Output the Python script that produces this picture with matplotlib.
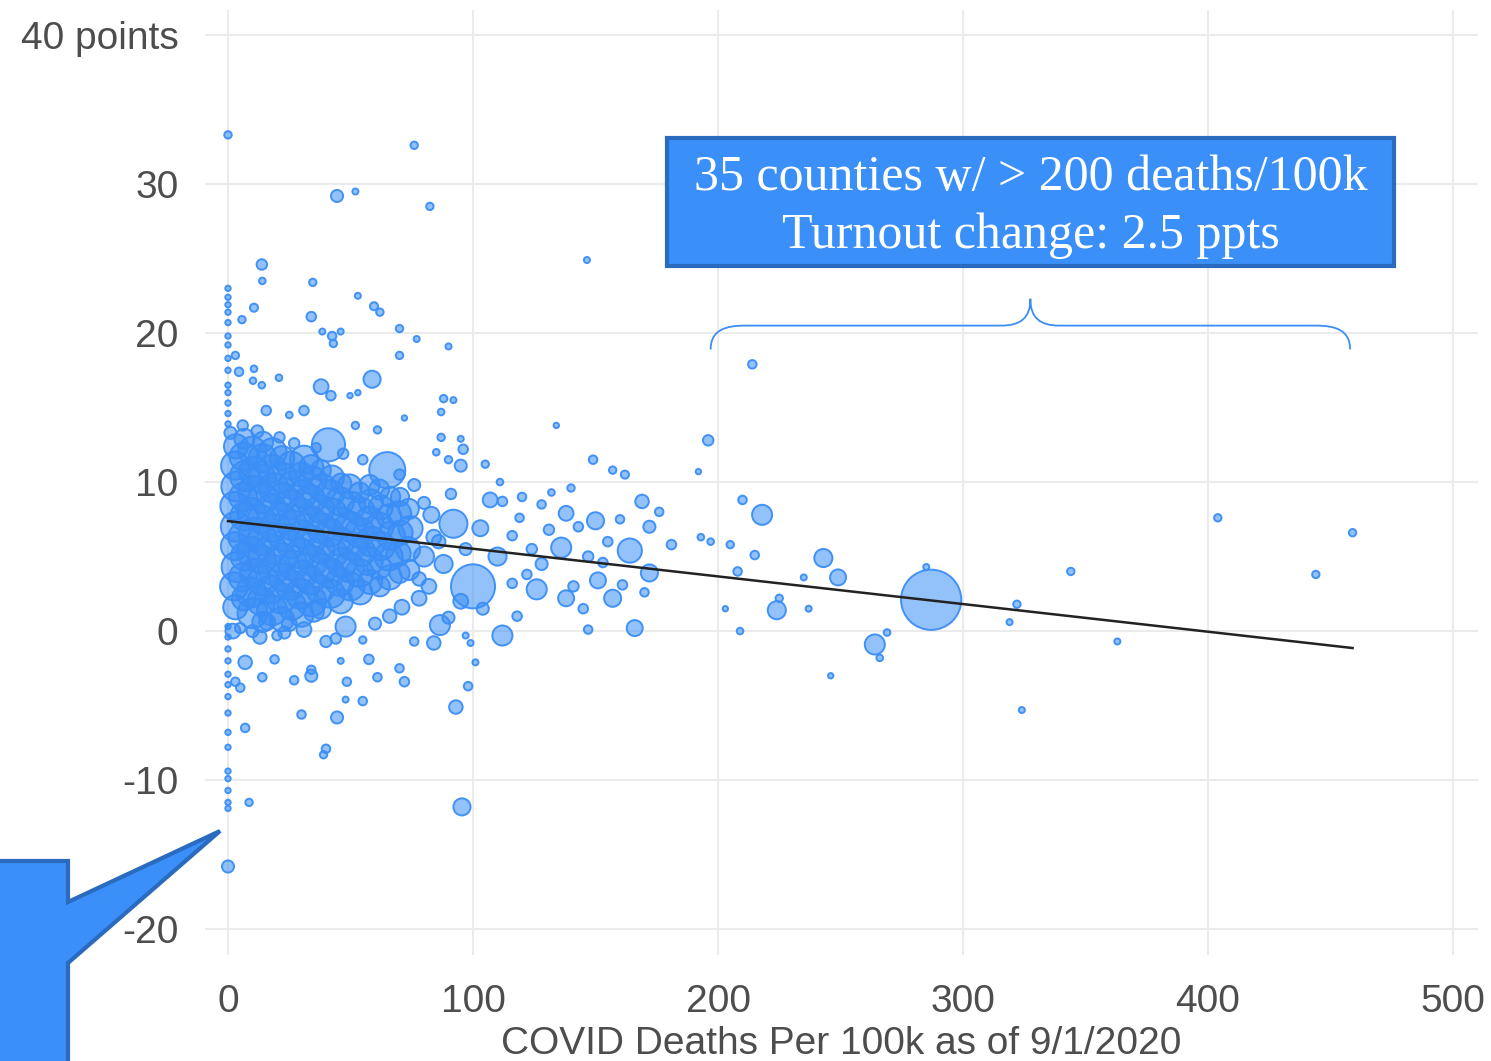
import numpy as np
import matplotlib.pyplot as plt
from matplotlib.patches import Rectangle, Polygon, PathPatch
from matplotlib.path import Path

W=1491
H=1061
BLUE="#3a8ef6"
DARK="#2a6bc0"
GRID="#ebebeb"
TXT="#4d4d4d"

# dense core of counties near zero deaths
cluster_x=[3,2.5,3.5,2.8,3.2,2.6,3.4,2.9,3.3,
	10,9.5,10.6,9.8,10.4,9.6,10.2,10.7,9.9,
	18,17.4,18.5,17.7,18.3,17.6,18.6,17.9,18.2,
	26,25.4,26.6,25.7,26.3,25.5,26.4,25.8,
	34,33.5,34.6,33.7,34.3,33.6,34.5,34,
	42,41.4,42.6,41.7,42.3,41.6,42.4,
	50,49.5,50.6,49.7,50.3,49.6,
	58,57.4,58.5,57.7,58.3,57.8,
	66,65.5,66.5,65.7,66.2,
	74,73.5,74.5,73.8]
cluster_y=[1.6,3.0,4.3,5.7,7.0,8.4,9.7,11.1,12.4,
	1.2,2.6,3.9,5.3,6.6,8.0,9.4,10.7,12.1,
	1.4,2.8,4.1,5.5,6.9,8.2,9.6,10.9,12.0,
	1.7,3.1,4.4,5.8,7.1,8.5,9.8,11.1,
	2.0,3.4,4.7,6.1,7.4,8.8,10.1,11.0,
	2.5,3.9,5.2,6.6,7.9,9.2,10.3,
	3.0,4.3,5.7,7.0,8.4,9.7,
	3.3,4.7,6.0,7.4,8.7,9.8,
	3.6,5.0,6.4,7.7,9.0,
	4.1,5.5,6.9,8.2]
cluster_pop=[160,215,245,215,245,215,245,215,160,
	245,245,215,245,245,215,245,245,215,
	245,215,245,245,215,245,245,215,215,
	215,245,245,215,245,245,215,215,
	245,215,245,245,215,245,215,160,
	215,245,245,215,245,215,160,
	215,245,215,245,215,160,
	160,215,245,215,160,110,
	160,215,215,160,110,
	110,160,160,110]

# second layer of the core, sitting between the first
core2_x=[6.5,6.1,6.8,6.3,6.6,6.2,6.9,6.4,6.7,
	14,13.6,14.4,13.8,14.2,13.7,14.5,13.9,14.1,14.3,
	22,21.6,22.4,21.8,22.3,21.7,22.5,21.9,22.1,
	30,29.6,30.4,29.8,30.3,29.7,30.5,29.9,
	38,37.6,38.4,37.8,38.3,37.7,38.5,37.9,
	46,45.6,46.4,45.8,46.3,45.7,46.2,
	54,53.6,54.4,53.8,54.3,53.7,
	62,61.6,62.4,61.8,62.3,61.7,
	70,69.6,70.4,69.8,70.2]
core2_y=[2.2,3.6,5.0,6.3,7.7,9.0,10.4,11.7,12.9,
	0.6,2.0,3.4,4.8,6.1,7.5,8.9,10.2,11.6,12.7,
	0.8,2.2,3.6,4.9,6.3,7.6,9.0,10.3,11.6,
	1.1,2.5,3.8,5.2,6.5,7.9,9.2,10.5,
	1.5,2.8,4.2,5.5,6.9,8.2,9.6,10.8,
	2.0,3.3,4.6,6.0,7.3,8.7,9.9,
	2.6,3.9,5.3,6.6,8.0,9.3,
	3.0,4.3,5.7,7.0,8.3,9.5,
	3.9,5.2,6.6,7.9,9.0]
core2_pop=[160,215,215,245,215,215,245,215,110,
	110,215,245,215,245,215,245,215,215,110,
	160,245,215,245,215,245,215,245,160,
	160,245,215,245,215,245,215,160,
	110,215,245,215,245,215,215,110,
	160,215,245,215,245,215,110,
	160,215,215,245,215,110,
	110,160,215,215,160,110,
	110,160,160,160,90]

# tiny dots stacked on x=0
zero_y=[23.0,22.4,21.9,21.4,20.7,19.8,19.2,18.3,17.5,16.5,16.0,15.3,14.6,13.9,
	0.3,-0.4,-1.2,-2.0,-2.9,-3.6,-4.4,-5.5,-6.8,-7.8,-9.4,-9.9,-10.7,-11.5,-11.9]

top_x=[0,76,44.5,52,82.4,13.8,14,34.6,53,59.6,62,10.6,5.7,34,38.5,46,42.5,43,70,77,90,70,3,4.5,10.6,10.2,13.8,20.8,
	58.8,38,42,49.8,53,88,146.5,72,87,92,15.6,25,31,52,61,87,95,96,85,90,134,149,162,105,111,
	41,65,31,1,6,12,21,27,36,47,55,70,76,80,84,78]
top_y=[33.3,32.6,29.2,29.5,28.5,24.6,23.5,23.4,22.5,21.8,21.4,21.7,20.9,21.1,20.1,20.1,19.8,19.3,20.3,19.6,19.1,18.5,18.5,17.4,17.6,16.8,16.5,17.0,
	16.9,16.4,15.8,15.8,16.0,15.6,24.9,14.3,14.7,15.5,14.8,14.5,14.8,13.8,13.5,13.0,12.9,12.2,12.0,11.5,13.8,11.5,10.5,11.2,10.0,
	12.5,10.8,11.5,13.3,13.8,13.4,13.0,12.6,12.3,11.9,11.5,10.5,9.8,8.6,6.3,3.5]
top_pop=[15,15,40,10,15,30,12,15,10,18,15,18,15,25,10,10,20,15,15,10,10,15,15,20,12,12,12,12,
	80,60,25,8,8,15,10,8,12,10,25,12,25,15,15,15,10,25,12,15,8,20,18,15,12,
	300,355,215,40,30,40,30,30,25,30,25,30,40,40,60,50]

mid_x=[95,169,172,181,164,172,150,138,136,126,138,151,157,161,166,112,100,92,103,112,107,116,116,128,143,147,155,160,145,147,
	86.5,48,128,118,124,132,140,157,104,95,88,80,83,78,90,120,110,
	82,86,91,97,122,131,153,170,176,141,119]
mid_y=[11.1,8.7,7.0,5.8,5.4,3.9,7.4,7.9,5.6,2.8,2.2,3.4,2.2,3.1,0.2,-0.3,3.0,7.2,6.9,8.7,8.8,6.4,3.2,8.5,7.0,5.0,6.0,7.5,1.5,0.1,
	0.4,0.3,4.5,1.0,5.5,9.3,9.6,10.8,1.5,2.0,4.5,5.0,7.8,2.2,0.9,9.0,5.0,
	3.0,6.0,9.2,5.5,3.8,6.8,4.6,2.6,8.0,3.0,7.6]
mid_pop=[40,50,40,25,160,80,80,60,110,110,70,70,80,25,70,110,530,215,70,25,60,25,25,20,25,30,25,20,25,20,
	110,110,40,25,30,12,15,15,40,60,90,110,70,60,40,20,90,
	60,50,30,40,25,30,25,20,20,30,20]

# counties above 200 deaths/100k
right_x=[196,214,192,210,218,193,197,205,215,208,203,209,224,225,235,237,243,249,246,264,266,269,287,285,322,319,324,344,363,404,444,459]
right_y=[12.8,17.9,10.7,8.8,7.8,6.3,6.0,5.8,5.1,4.0,1.5,0.0,1.4,2.2,3.6,1.5,4.9,3.6,-3.0,-0.9,-1.8,-0.1,2.1,4.3,1.8,0.6,-5.3,4.0,-0.7,7.6,3.8,6.6]
right_pop=[30,20,8,20,110,12,12,15,20,20,8,12,90,15,10,10,90,70,8,110,12,12,990,10,15,10,10,15,10,15,15,15]

low_x=[0,8.6,95.5,93,40,39,44.5,30,7,55,48,70,72,61,48.5,34,34,27,14,3,5,7,19,57.5,46,98,101,99,97,84,76,31,40,55,10,20,25,5,60,66,71,35,44,
	2,13,16,23]
low_y=[-15.8,-11.5,-11.8,-5.1,-7.9,-8.3,-5.8,-5.6,-6.5,-4.7,-4.6,-2.5,-3.4,-3.1,-3.4,-3.0,-2.6,-3.3,-3.1,-3.4,-3.8,-2.1,-1.9,-1.9,-2.0,-3.7,-2.1,-0.8,-0.3,-0.8,-0.7,0.1,-0.7,-0.6,0.0,-0.3,0.5,0.2,0.5,1.0,1.6,1.3,-0.5,
	0.0,-0.4,0.6,-0.1]
low_pop=[40,15,80,50,20,15,40,20,20,20,10,20,25,20,20,40,20,20,20,20,20,50,20,25,10,20,10,10,10,50,20,60,35,15,40,25,60,30,40,50,60,110,30,
	60,50,70,40]

fit_intercept=7.38
fit_slope=-0.01856
fit_xmax=459

x_ticks=[0,100,200,300,400,500]
y_ticks=[-20,-10,0,10,20,30,40]
y_ticklabels=["-20","-10","0","10","20","30","40 points"]
note_lines=["35 counties w/ > 200 deaths/100k","Turnout change: 2.5 ppts"]

# speech-bubble shape at bottom left, in figure pixels
bubble_px=[(-10,861),(68,861),(68,902),(220,831),(68,963),(68,1075),(-10,1075)]


def main():
	fig=plt.figure(figsize=(W/100,H/100),dpi=100)
	ax=fig.add_axes([205/W,106/H,1273/W,945/H])

	x=np.concatenate([cluster_x,core2_x,[0]*len(zero_y),top_x,mid_x,right_x,low_x])
	y=np.concatenate([cluster_y,core2_y,zero_y,top_y,mid_y,right_y,low_y])
	pop=np.concatenate([cluster_pop,core2_pop,[8]*len(zero_y),top_pop,mid_pop,right_pop,low_pop])

	ax.scatter(x,y,s=pop*1.9,facecolor=(0.227,0.557,0.965,0.55),edgecolor=(0.227,0.557,0.965,0.95),linewidth=1.4,zorder=3)

	xs=np.array([0,fit_xmax])
	ax.plot(xs,fit_intercept+fit_slope*xs,color="#222222",linewidth=1.8,zorder=4)

	ax.set_xlim(-9.39,510.2)
	ax.set_ylim(-21.74,41.68)
	ax.set_xticks(x_ticks)
	ax.set_yticks(y_ticks)
	ax.set_yticklabels(y_ticklabels)
	ax.grid(True,color=GRID,linewidth=1.5)
	ax.set_axisbelow(True)
	for sp in ax.spines.values():
		sp.set_visible(False)
	ax.tick_params(axis="both",length=0,labelsize=28,labelcolor=TXT)
	ax.tick_params(axis="y",pad=19)
	ax.tick_params(axis="x",pad=21)
	for lab in ax.get_xticklabels()+ax.get_yticklabels():
		lab.set_fontfamily("Liberation Sans")
	ax.set_xlabel("COVID Deaths Per 100k as of 9/1/2020",fontsize=28,color=TXT,family="Liberation Sans",labelpad=4)

	# note box
	ax.add_patch(Rectangle((179.2,24.5),296.8,8.6,facecolor="#3a8ff8",edgecolor=DARK,linewidth=3,zorder=5))
	ax.text(327.6,30.45,note_lines[0],ha="center",va="center",color="white",fontsize=36,family="Liberation Serif",zorder=6)
	ax.text(327.6,26.5,note_lines[1],ha="center",va="center",color="white",fontsize=36,family="Liberation Serif",zorder=6)

	# curly brace over the >200 counties
	bx0,bx1,by,tip=197,458,20.5,22.3
	bm=(bx0+bx1)/2
	verts=[(bx0,by-1.6),(bx0,by-0.3),(bx0+6,by),(bx0+14,by),
		(bm-12,by),
		(bm-4,by),(bm,by+0.5),(bm,tip),
		(bm,by+0.5),(bm+4,by),(bm+12,by),
		(bx1-14,by),
		(bx1-6,by),(bx1,by-0.3),(bx1,by-1.6)]
	codes=[Path.MOVETO,Path.CURVE4,Path.CURVE4,Path.CURVE4,
		Path.LINETO,
		Path.CURVE4,Path.CURVE4,Path.CURVE4,
		Path.CURVE4,Path.CURVE4,Path.CURVE4,
		Path.LINETO,
		Path.CURVE4,Path.CURVE4,Path.CURVE4]
	ax.add_patch(PathPatch(Path(verts,codes),facecolor="none",edgecolor=BLUE,linewidth=1.3,zorder=5))

	pts=[(px/W,1-py/H) for px,py in bubble_px]
	fig.patches.append(Polygon(pts,closed=True,facecolor="#3a8ff8",edgecolor=DARK,linewidth=3,transform=fig.transFigure,figure=fig,zorder=10))

	fig.savefig("out.png",dpi=100)

main()
